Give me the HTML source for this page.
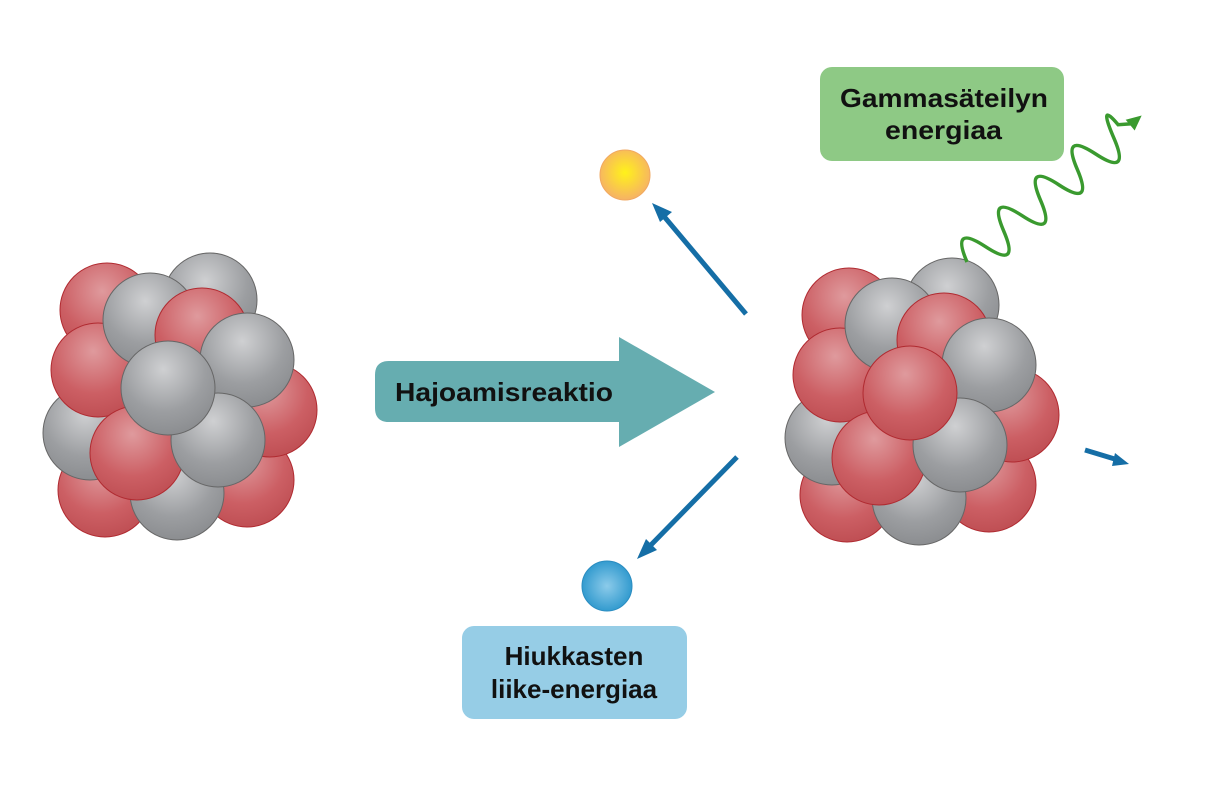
<!DOCTYPE html>
<html><head><meta charset="utf-8"><style>
body{margin:0;background:#fff;}
svg{display:block;}
text{font-family:"Liberation Sans",sans-serif;font-weight:bold;fill:#111;}
</style></head><body>
<svg width="1223" height="800" viewBox="0 0 1223 800" xmlns="http://www.w3.org/2000/svg">
<defs>
<radialGradient id="r" cx="0.45" cy="0.3" r="0.75">
<stop offset="0" stop-color="#df9a9d"/><stop offset="0.6" stop-color="#cc5f64"/><stop offset="1" stop-color="#bd4c51"/>
</radialGradient>
<radialGradient id="g" cx="0.45" cy="0.3" r="0.75">
<stop offset="0" stop-color="#cfd0d2"/><stop offset="0.6" stop-color="#9c9ea1"/><stop offset="1" stop-color="#888a8d"/>
</radialGradient>
<radialGradient id="y" cx="0.5" cy="0.45" r="0.55">
<stop offset="0" stop-color="#fff21a"/><stop offset="1" stop-color="#f6b265"/>
</radialGradient>
<radialGradient id="b" cx="0.5" cy="0.5" r="0.55">
<stop offset="0" stop-color="#8ccbea"/><stop offset="1" stop-color="#2a96cc"/>
</radialGradient>
<g id="nuc">
<circle cx="107" cy="310" r="47" fill="url(#r)" stroke="#b02a30" stroke-width="1"/>
<circle cx="210" cy="300" r="47" fill="url(#g)" stroke="#666" stroke-width="1"/>
<circle cx="105" cy="490" r="47" fill="url(#r)" stroke="#b02a30" stroke-width="1"/>
<circle cx="247" cy="480" r="47" fill="url(#r)" stroke="#b02a30" stroke-width="1"/>
<circle cx="270" cy="410" r="47" fill="url(#r)" stroke="#b02a30" stroke-width="1"/>
<circle cx="90" cy="433" r="47" fill="url(#g)" stroke="#666" stroke-width="1"/>
<circle cx="98" cy="370" r="47" fill="url(#r)" stroke="#b02a30" stroke-width="1"/>
<circle cx="150" cy="320" r="47" fill="url(#g)" stroke="#666" stroke-width="1"/>
<circle cx="202" cy="335" r="47" fill="url(#r)" stroke="#b02a30" stroke-width="1"/>
<circle cx="247" cy="360" r="47" fill="url(#g)" stroke="#666" stroke-width="1"/>
<circle cx="177" cy="493" r="47" fill="url(#g)" stroke="#666" stroke-width="1"/>
<circle cx="137" cy="453" r="47" fill="url(#r)" stroke="#b02a30" stroke-width="1"/>
<circle cx="218" cy="440" r="47" fill="url(#g)" stroke="#666" stroke-width="1"/>
</g>
</defs>
<use href="#nuc"/>
<circle cx="168" cy="388" r="47" fill="url(#g)" stroke="#666" stroke-width="1"/>
<g transform="translate(742,5)">
<use href="#nuc"/>
<circle cx="168" cy="388" r="47" fill="url(#r)" stroke="#b02a30" stroke-width="1"/>
</g>
<path d="M389,361 H619 V337 L715,392 L619,447 V422 H389 Q375,422 375,408 V375 Q375,361 389,361 Z" fill="#66adb0"/>
<text x="395" y="401" font-size="26" textLength="218" lengthAdjust="spacingAndGlyphs">Hajoamisreaktio</text>
<g stroke="#156ea6" stroke-width="5" fill="#156ea6">
<line x1="746" y1="314" x2="662" y2="214"/>
<line x1="737" y1="457" x2="647" y2="549"/>
<line x1="1085" y1="450" x2="1118" y2="460"/>
</g>
<polygon points="652,203 672,212 660,222" fill="#156ea6"/>
<polygon points="637,559 646,539 657,550" fill="#156ea6"/>
<polygon points="1129,464 1115,453 1112,466" fill="#156ea6"/>
<circle cx="625" cy="175" r="25" fill="url(#y)" stroke="#f0a860"/>
<circle cx="607" cy="586" r="25" fill="url(#b)" stroke="#2a8cc0"/>
<rect x="820" y="67" width="244" height="94" rx="12" fill="#8ec985"/>
<text x="840" y="107" font-size="26" textLength="208" lengthAdjust="spacingAndGlyphs">Gammasäteilyn</text>
<text x="885" y="139" font-size="26" textLength="117" lengthAdjust="spacingAndGlyphs">energiaa</text>
<rect x="462" y="626" width="225" height="93" rx="12" fill="#96cde6"/>
<text x="574" y="665" font-size="26" text-anchor="middle">Hiukkasten</text>
<text x="574" y="698" font-size="26" text-anchor="middle">liike-energiaa</text>
<g transform="translate(967,262) rotate(-40)">
<path d="M0,0 q12,-40 24,0 t24,0 t24,0 t24,0 t24,0 t24,0 t24,0 t24,0 t12,-8 L215,0" fill="none" stroke="#3a9a2f" stroke-width="3.5"/>
<polygon points="228,0 213,-7 213,7" fill="#3a9a2f"/>
</g>
</svg>
</body></html>
